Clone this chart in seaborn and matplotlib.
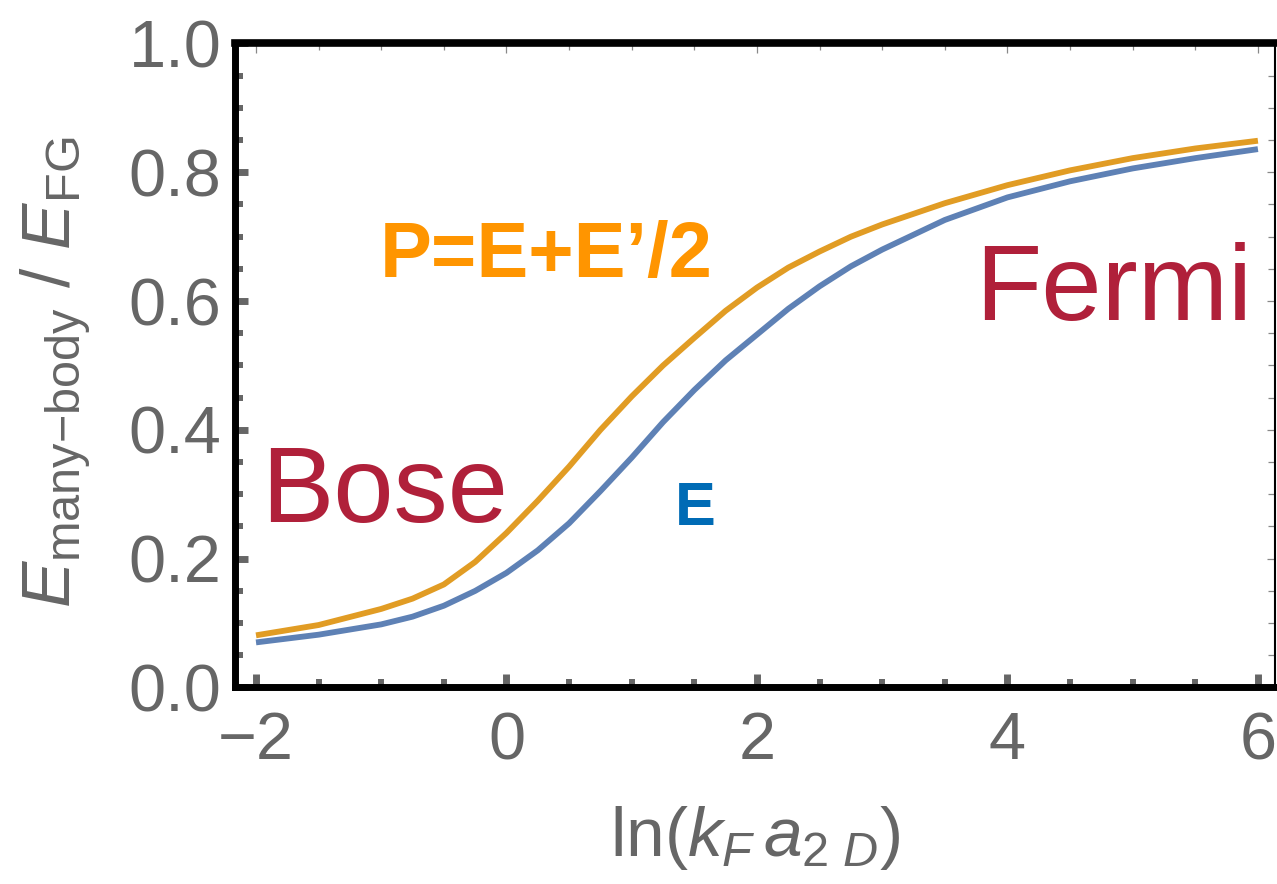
import numpy as np
import pandas as pd
import matplotlib
matplotlib.use("Agg")
import matplotlib.pyplot as plt
from matplotlib.ticker import MultipleLocator, FormatStrFormatter
import seaborn as sns

# ---- data ----
x_vals = [-2.0, -1.5, -1.0, -0.75, -0.5, -0.25, 0.0, 0.25, 0.5, 0.75, 1.0, 1.25, 1.5, 1.75,
          2.0, 2.25, 2.5, 2.75, 3.0, 3.5, 4.0, 4.5, 5.0, 5.5, 6.0]
e_vals = [0.070, 0.082, 0.098, 0.110, 0.127, 0.150, 0.178, 0.213, 0.255, 0.305, 0.357, 0.412,
          0.462, 0.508, 0.548, 0.588, 0.623, 0.654, 0.680, 0.726, 0.761, 0.786, 0.806, 0.822, 0.836]
p_vals = [0.081, 0.097, 0.122, 0.138, 0.160, 0.195, 0.240, 0.290, 0.343, 0.400, 0.452, 0.500,
          0.543, 0.585, 0.621, 0.652, 0.677, 0.700, 0.719, 0.752, 0.780, 0.803, 0.822, 0.837, 0.849]
series_names = ["E", "P"]
x_ticks = [-2, 0, 2, 4, 6]
y_ticks = [0.0, 0.2, 0.4, 0.6, 0.8, 1.0]

df = pd.DataFrame({
    "x": x_vals + x_vals,
    "y": e_vals + p_vals,
    "series": [series_names[0]] * len(x_vals) + [series_names[1]] * len(x_vals),
})

sns.set_theme(style="white")
plt.rcParams["font.family"] = ["Liberation Sans", "DejaVu Sans"]
plt.rcParams["mathtext.fontset"] = "custom"
plt.rcParams["mathtext.rm"] = "Liberation Sans"
plt.rcParams["mathtext.it"] = "Liberation Sans:italic"
plt.rcParams["mathtext.bf"] = "Liberation Sans:bold"

gray = "#666666"

fig = plt.figure(figsize=(12.77, 8.84), dpi=100)
ax = fig.add_axes([0.1844, 0.2223, 0.814, 0.7285])

sns.lineplot(data=df, x="x", y="y", hue="series",
             palette={"E": "#5E81B5", "P": "#E19C24"},
             linewidth=4.2, legend=False, ax=ax, sort=False)
for ln in ax.lines:
    ln.set_solid_joinstyle("round")
    ln.set_solid_capstyle("butt")

ax.set_xlim(-2.164, 6.136)
ax.set_ylim(0, 1)
ax.set_xticks(x_ticks)
ax.set_yticks(y_ticks)
ax.xaxis.set_minor_locator(MultipleLocator(0.5))
ax.yaxis.set_minor_locator(MultipleLocator(0.05))
ax.yaxis.set_major_formatter(FormatStrFormatter("%.1f"))

ax.tick_params(which="both", direction="in", color=gray, left=True, bottom=True,
               top=False, right=False, labelcolor=gray, labelsize=48)
ax.tick_params(which="major", length=9.7, width=5)
ax.tick_params(which="minor", length=6, width=4.3)
ax.tick_params(axis="y", which="major", pad=10)
ax.tick_params(axis="x", which="major", pad=17)

for side, lw in [("left", 5), ("bottom", 5), ("top", 5.5), ("right", 1.5)]:
    ax.spines[side].set_visible(True)
    ax.spines[side].set_color("black")
    ax.spines[side].set_linewidth(lw)

# thin frame ticks on top and right
secx = ax.secondary_xaxis("top")
secx.set_xticks(x_ticks)
secx.xaxis.set_minor_locator(MultipleLocator(0.5))
secx.tick_params(which="both", direction="in", color="#888888", width=0.9, labeltop=False)
secx.tick_params(which="major", length=7)
secx.tick_params(which="minor", length=5)
secx.spines["top"].set_visible(False)

secy = ax.secondary_yaxis("right")
secy.set_yticks(y_ticks)
secy.yaxis.set_minor_locator(MultipleLocator(0.05))
secy.tick_params(which="both", direction="in", color="#888888", width=0.9, labelright=False)
secy.tick_params(which="major", length=6)
secy.tick_params(which="minor", length=5)
secy.spines["right"].set_visible(False)

ax.set_xlabel(r"ln($k_F\,a_{2\ D}$)", fontsize=50, color=gray, labelpad=22)
ax.set_ylabel(r"$E_{\mathrm{many{-}body}}$ / $E_{\mathrm{FG}}$", fontsize=50, color=gray, labelpad=26)
ax.yaxis.label.set_y(0.49)

ax.text(-0.97, 0.257, "Bose", color="#B0203A", fontsize=78, ha="center", va="baseline")
ax.text(4.846, 0.571, "Fermi", color="#B0203A", fontsize=78, ha="center", va="baseline")
ax.text(0.319, 0.637, "P=E+E\u2019/2", color="#FF9500", fontsize=56, fontweight="bold",
        ha="center", va="baseline")
ax.text(1.505, 0.252, "E", color="#006BB5", fontsize=44, fontweight="bold",
        ha="center", va="baseline")

fig.savefig("out.png", dpi=100)
